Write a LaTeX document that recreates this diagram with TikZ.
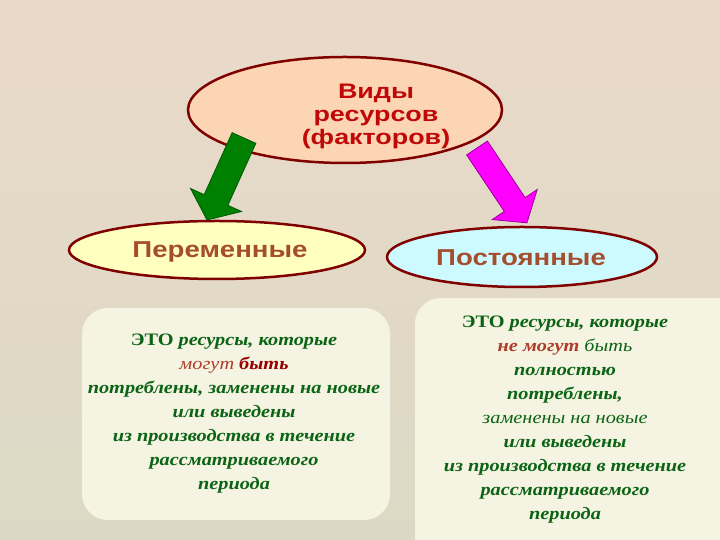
\documentclass[tikz,border=0pt]{standalone}
\usepackage{fontspec}
\setmainfont{Liberation Serif}
\newfontfamily\sansw[FakeStretch=1.28]{Liberation Sans}
\newfontfamily\sansv[FakeStretch=1.2]{Liberation Sans}
\newfontfamily\serifw[FakeStretch=1.16]{Liberation Serif}
\usetikzlibrary{shapes.geometric}
\definecolor{bgtop}{RGB}{234,217,200}
\definecolor{bgbot}{RGB}{219,217,197}
\definecolor{darkred}{RGB}{128,0,0}
\definecolor{titlered}{RGB}{192,8,8}
\definecolor{peach}{RGB}{252,213,181}
\definecolor{paleyellow}{RGB}{255,255,192}
\definecolor{palecyan}{RGB}{204,250,255}
\definecolor{brownt}{RGB}{165,78,45}
\definecolor{boxfill}{RGB}{245,243,226}
\definecolor{txtgreen}{RGB}{10,100,20}
\definecolor{mogred}{RGB}{175,60,40}
\definecolor{bytred}{RGB}{150,0,0}
\definecolor{arrgreen}{RGB}{0,128,0}
\definecolor{arrmag}{RGB}{255,0,255}
\tikzset{
  oval/.style={ellipse, draw=darkred, line width=2.5pt, inner sep=0pt},
  softbox/.style={fill=boxfill, rounded corners=26pt},
  bodytext/.style={align=center, text=txtgreen, font=\serifw\fontsize{17.5}{24}\selectfont\bfseries\itshape},
  ovaltext/.style={text=brownt, font=\sansv\bfseries\fontsize{23}{25}\selectfont},
  blockarrow/.style={line width=0.8pt, line join=miter}
}
\begin{document}
\begin{tikzpicture}[x=1pt,y=1pt]
\useasboundingbox (0,0) rectangle (720,540);
\shade[top color=bgtop, bottom color=bgbot] (0,0) rectangle (720,540);
% text boxes
\fill[softbox] (82,20) rectangle (390,232);
\fill[softbox] (415,-30) rectangle (750,242);
% ellipses
\node[oval, fill=peach, minimum width=314pt, minimum height=106pt] (top) at (345,430) {};
\node[align=center, text=titlered, font=\sansw\bfseries\fontsize{21}{23}\selectfont] (toptext) at (376,424) {Виды\\ресурсов\\(факторов)};
\node[oval, fill=paleyellow, minimum width=296pt, minimum height=58pt] (var) at (217,290) {};
\node[ovaltext] (vartitle) at (220,288) {Переменные};
\node[oval, fill=palecyan, minimum width=270pt, minimum height=60pt] (const) at (522,283) {};
\node[ovaltext] (consttitle) at (521,282) {Постоянные};
% block arrows
\coordinate (gstart) at (244,402);
\coordinate (mstart) at (477,392);
\begin{scope}[shift={(gstart)}, rotate=245.7]
\draw[blockarrow, fill=arrgreen, draw=arrgreen!70!black] (0,13) -- (68,13) -- (68,28) -- (90,0) -- (68,-28) -- (68,-13) -- (0,-13) -- cycle;
\end{scope}
\begin{scope}[shift={(mstart)}, rotate=-56.3]
\draw[blockarrow, fill=arrmag, draw=arrmag!60!black] (0,12.5) -- (68,12.5) -- (68,27) -- (90,0) -- (68,-27) -- (68,-12.5) -- (0,-12.5) -- cycle;
\end{scope}
% texts
\node[bodytext] (vartext) at (234,126) {{\upshape ЭТО} ресурсы, которые\\{\color{mogred}\mdseries могут} {\color{bytred}быть}\\потреблены, заменены на новые\\или выведены\\из производства в течение\\рассматриваемого\\периода};
\node[bodytext] (consttext) at (565,120) {{\upshape ЭТО} ресурсы, которые\\{\color{mogred}не могут} {\mdseries быть}\\полностью\\потреблены,\\{\mdseries заменены на новые}\\или выведены\\из производства в течение\\рассматриваемого\\периода};
\end{tikzpicture}
\end{document}
